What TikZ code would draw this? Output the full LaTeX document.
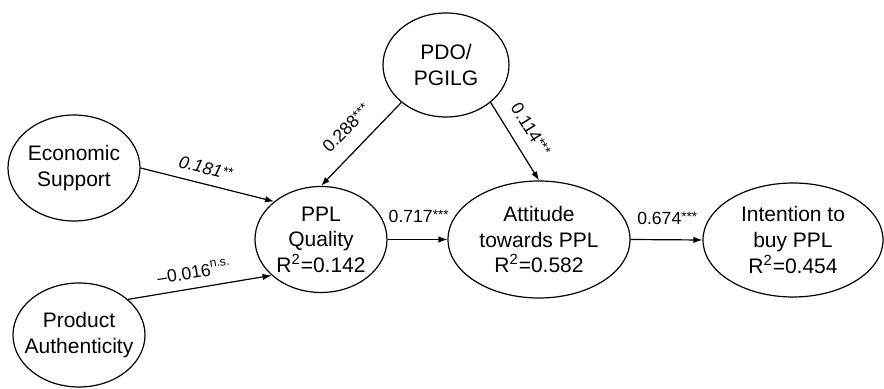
\documentclass[tikz,border=0pt]{standalone}
\usepackage{fontspec}
\setmainfont{Liberation Sans}
\usetikzlibrary{shapes.geometric,arrows.meta}

% significance stars, set small and raised to digit height
\newcommand{\stars}[1]{\raisebox{1.5pt}{\fontsize{6.8pt}{6.8pt}\selectfont #1}}
\newcommand{\rsq}{R\textsuperscript{2}}

\begin{document}
\begin{tikzpicture}[x=0.5pt,y=-0.5pt,
  latent/.style={ellipse,draw,line width=0.6pt,inner sep=0pt},
  latenttext/.style={align=center,inner sep=0pt,
    font=\fontsize{10.5pt}{12.8pt}\selectfont},
  effect/.style={draw,line width=0.6pt,-{Latex[length=4.5pt,width=3.2pt]}},
  coef/.style={inner sep=0pt,font=\fontsize{8.8pt}{10pt}\selectfont}]
\useasboundingbox (0,0) rectangle (884,389);

% constructs
\node[latent,minimum width=63pt,minimum height=52pt]   (pdo) at (446,65)    {};
\node[latent,minimum width=66pt,minimum height=53pt]   (es)  at (74,168)    {};
\node[latent,minimum width=66pt,minimum height=52pt]   (pa)  at (79,335)    {};
\node[latent,minimum width=66pt,minimum height=53pt]   (ppl) at (321,239.5) {};
\node[latent,minimum width=91pt,minimum height=58.5pt] (att) at (539,239.5) {};
\node[latent,minimum width=90pt,minimum height=57pt]   (int) at (793,240)   {};

\node[latenttext] (pdo-t) at (pdo) {PDO/\\PGILG};
\node[latenttext] (es-t)  at (es)  {Economic\\Support};
\node[latenttext] (pa-t)  at (pa)  {Product\\Authenticity};
\node[latenttext] (ppl-t) at (ppl) {PPL\\Quality\\\rsq=0.142};
\node[latenttext] (att-t) at (att) {Attitude\\towards PPL\\\rsq=0.582};
\node[latenttext] (int-t) at (int) {Intention to\\buy PPL\\\rsq=0.454};

% structural paths with coefficients
\draw[effect] (es.east) -- (ppl.141.6)
  node[coef,pos=0.46,sloped,above=4.5pt] {\itshape 0.181\stars{**}};
\draw[effect] (pa.36) -- (ppl.216)
  node[coef,pos=0.48,sloped,above=4.5pt] {--0.016\textsuperscript{n.s.}};
\draw[effect] (pdo.220) -- (ppl.north)
  node[coef,pos=0.49,sloped,above=7.5pt] {0.288\stars{***}};
\draw[effect] (pdo.320.7) -- (att.north)
  node[coef,pos=0.48,sloped,above=6.5pt] {0.114\stars{***}};
\draw[effect] (ppl.east) -- (att.west)
  node[coef,pos=0.52,above=8pt] {0.717\stars{***}};
\draw[effect] (att.east) -- (int.west)
  node[coef,pos=0.51,above=7pt] {0.674\stars{***}};
\end{tikzpicture}
\end{document}
